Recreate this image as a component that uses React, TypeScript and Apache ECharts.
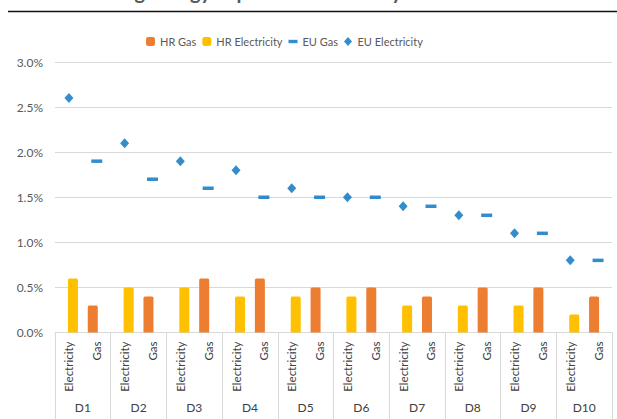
import React, { useEffect, useRef } from "react";
import * as echarts from "echarts";

const deciles = ["D1", "D2", "D3", "D4", "D5", "D6", "D7", "D8", "D9", "D10"];
const subCategories = ["Electricity", "Gas"];
const hrGas = [0.3, 0.4, 0.6, 0.6, 0.5, 0.5, 0.4, 0.5, 0.5, 0.4];
const hrElectricity = [0.6, 0.5, 0.5, 0.4, 0.4, 0.4, 0.3, 0.3, 0.3, 0.2];
const euGas = [1.9, 1.7, 1.6, 1.5, 1.5, 1.5, 1.4, 1.3, 1.1, 0.8];
const euElectricity = [2.6, 2.1, 1.9, 1.8, 1.6, 1.5, 1.4, 1.3, 1.1, 0.8];
const yTicks = { min: 0, max: 3, interval: 0.5 };
const titleText = "Housing energy expenditure share by income decile";

const FONT = "Lato, 'Open Sans', sans-serif";
const TEXT = "#595959";
const GRID = "#d9d9d9";

export default function App() {
  const ref = useRef<HTMLDivElement>(null);
  useEffect(() => {
    if (!ref.current) return;
    const chart = echarts.init(ref.current, undefined, { renderer: "svg" });
    const cats: string[] = [];
    deciles.forEach(() => subCategories.forEach((s) => cats.push(s)));
    const onElec = (arr: number[]) => arr.flatMap((v) => [v, null]);
    const onGas = (arr: number[]) => arr.flatMap((v) => [null, v]);

    chart.setOption({
      animation: false,
      textStyle: { fontFamily: FONT },
      graphic: [
        {
          type: "text",
          x: 300,
          y: 1,
          z: 10,
          style: {
            text: titleText,
            textAlign: "center",
            textVerticalAlign: "bottom",
            font: `bold 20px ${FONT}`,
            fill: TEXT,
          },
        },
        {
          type: "rect",
          z: 10,
          shape: { x: 8, y: 10.8, width: 609, height: 1.4 },
          style: { fill: "#111111" },
        },
      ],
      legend: {
        top: 31,
        left: 141,
        itemWidth: 9,
        itemHeight: 9,
        itemGap: 6,
        textStyle: { color: TEXT, fontSize: 11, fontFamily: FONT },
        data: [
          { name: "HR Gas", icon: "roundRect" },
          { name: "HR Electricity", icon: "roundRect" },
          { name: "EU Gas", icon: "path://M0,0h8v3h-8z" },
          { name: "EU Electricity", icon: "path://M4,0L8,4.5L4,9L0,4.5Z" },
        ],
      },
      grid: {
        left: 55,
        right: 5,
        top: 62,
        bottom: 86.5,
        containLabel: false,
        outerBoundsMode: "none",
      },
      xAxis: [
        {
          type: "category",
          data: cats,
          position: "bottom",
          axisLine: { show: true, lineStyle: { color: GRID, width: 1 } },
          axisTick: { show: false },
          axisLabel: {
            interval: 0,
            rotate: 90,
            margin: 9,
            color: "#404040",
            fontSize: 11.5,
            fontFamily: FONT,
          },
        },
        {
          type: "category",
          data: deciles,
          position: "bottom",
          axisLine: { show: false },
          axisTick: {
            show: true,
            interval: 0,
            length: 90,
            lineStyle: { color: GRID, width: 1 },
          },
          axisLabel: {
            interval: 0,
            margin: 69,
            color: "#404040",
            fontSize: 12,
            fontFamily: FONT,
          },
        },
      ],
      yAxis: {
        type: "value",
        min: yTicks.min,
        max: yTicks.max,
        interval: yTicks.interval,
        axisLine: { show: false },
        axisTick: { show: false },
        splitLine: { lineStyle: { color: GRID, width: 1 } },
        axisLabel: {
          margin: 12,
          color: TEXT,
          fontSize: 12,
          fontFamily: FONT,
          formatter: (v: number) => v.toFixed(1) + "%",
        },
      },
      series: [
        {
          name: "HR Gas",
          type: "bar",
          data: onGas(hrGas),
          barWidth: 10,
          barGap: "-20%",
          itemStyle: { color: "#ED7D31", borderRadius: [1.5, 1.5, 0, 0] },
        },
        {
          name: "HR Electricity",
          type: "bar",
          data: onElec(hrElectricity),
          barWidth: 10,
          barGap: "-20%",
          itemStyle: { color: "#FFC000", borderRadius: [1.5, 1.5, 0, 0] },
        },
        {
          name: "EU Gas",
          type: "scatter",
          data: onGas(euGas),
          symbol: "rect",
          symbolSize: [11, 3.5],
          itemStyle: { color: "#0070C0" },
          z: 5,
        },
        {
          name: "EU Electricity",
          type: "scatter",
          data: onElec(euElectricity),
          symbol: "diamond",
          symbolSize: [9, 10],
          itemStyle: { color: "#0070C0" },
          z: 5,
        },
      ],
    });
    return () => chart.dispose();
  }, []);

  return (
    <div
      ref={ref}
      style={{ position: "fixed", left: 0, top: 0, width: 617, height: 419, background: "#fff" }}
    />
  );
}
